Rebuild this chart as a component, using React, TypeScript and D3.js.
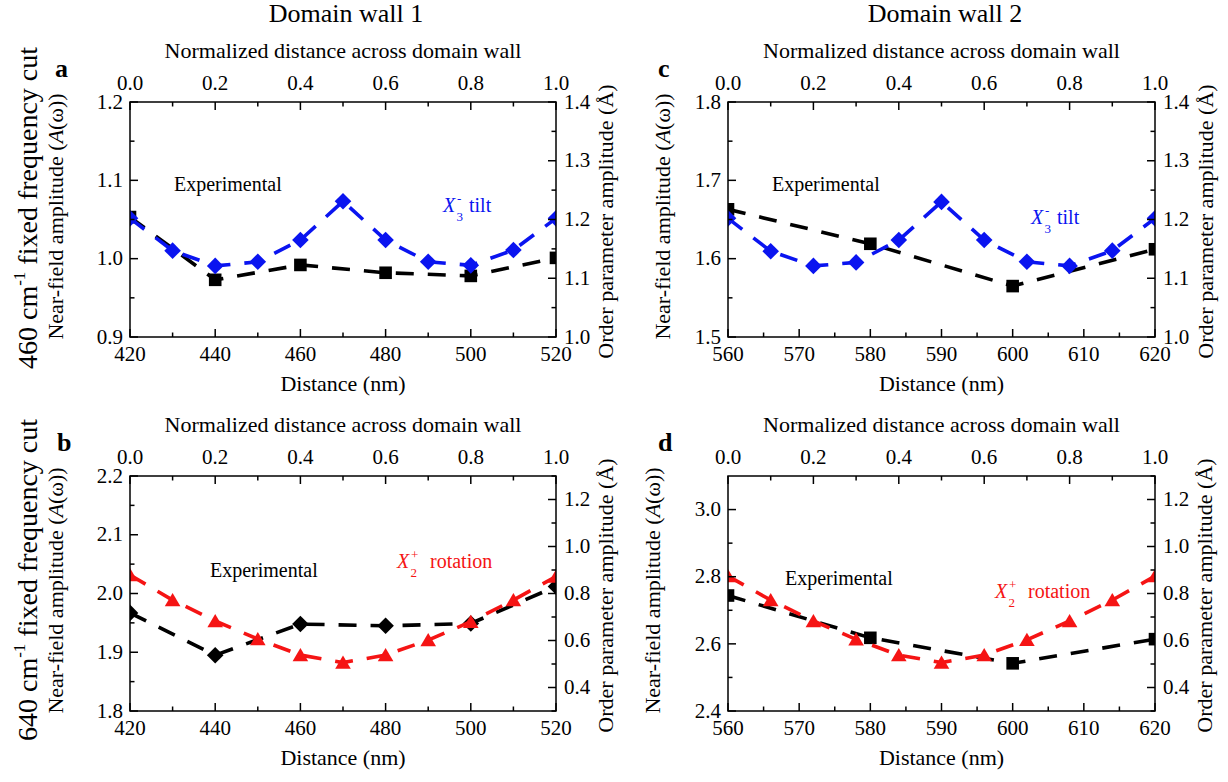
import React from "react";
import * as d3 from "d3";

const FONT = '"Liberation Serif","Times New Roman",Times,serif';
const BLUE = "#0a14f0";
const RED = "#f51414";
const BLACK = "#000000";

// ---------------- data ----------------
// normalized position across the wall (top axis) for the simulated order parameter
const normPos = [0, 0.1, 0.2, 0.3, 0.4, 0.5, 0.6, 0.7, 0.8, 0.9, 1.0];
// experimental sampling positions (nm)
const dw1Distance = [420, 440, 460, 480, 500, 520];
const dw2Distance = [560, 580, 600, 620];
// experimental near-field amplitude
const exp460DW1 = [1.053, 0.973, 0.992, 0.982, 0.978, 1.001];
const exp460DW2 = [1.663, 1.619, 1.565, 1.612];
const exp640DW1 = [1.967, 1.895, 1.948, 1.945, 1.949, 2.012];
const exp640DW2 = [2.744, 2.618, 2.542, 2.614];
// simulated order parameter amplitude (Å)
const tiltDW1 = [1.202, 1.147, 1.121, 1.128, 1.165, 1.231, 1.165, 1.128, 1.122, 1.148, 1.202];
const tiltDW2 = [1.202, 1.146, 1.121, 1.127, 1.165, 1.23, 1.165, 1.128, 1.121, 1.147, 1.202];
const rotDW1 = [0.879, 0.772, 0.683, 0.606, 0.538, 0.506, 0.538, 0.602, 0.68, 0.772, 0.872];
const rotDW2 = [0.874, 0.772, 0.683, 0.605, 0.538, 0.506, 0.538, 0.603, 0.683, 0.772, 0.874];

// tick labels
const topTicks = [0, 0.2, 0.4, 0.6, 0.8, 1.0];
const xTicksDW1 = [420, 440, 460, 480, 500, 520];
const xTicksDW2 = [560, 570, 580, 590, 600, 610, 620];
const yTicks460DW1 = [0.9, 1.0, 1.1, 1.2];
const yTicks460DW2 = [1.5, 1.6, 1.7, 1.8];
const yTicks640DW1 = [1.8, 1.9, 2.0, 2.1, 2.2];
const yTicks640DW2 = [2.4, 2.6, 2.8, 3.0];
const tiltTicks = [1.0, 1.1, 1.2, 1.3, 1.4];
const rotTicks = [0.4, 0.6, 0.8, 1.0, 1.2];

type Marker = "square" | "diamond" | "triangle";

interface PanelCfg {
  id: string;
  left: number; right: number; top: number; bottom: number;
  xDomain: [number, number]; xTicks: number[]; xMinor: number;
  yDomain: [number, number]; yTicks: number[]; yMinor: number;
  rDomain: [number, number]; rTicks: number[]; rMinor: number;
  expX: number[]; expY: number[]; expMarker: Marker;
  simV: number[]; simColor: string; simName: string; simSub: string; simSup: string;
  expLabel: [number, number]; simLabel: [number, number]; simTextDx: number;
  letterX: number; leftTitleX: number; rightTitleX: number;
}

const panels: PanelCfg[] = [
  {
    id: "a", left: 130, right: 556, top: 102, bottom: 337,
    xDomain: [420, 520], xTicks: xTicksDW1, xMinor: 10,
    yDomain: [0.9, 1.2], yTicks: yTicks460DW1, yMinor: 0.05,
    rDomain: [1.0, 1.4], rTicks: tiltTicks, rMinor: 0.05,
    expX: dw1Distance, expY: exp460DW1, expMarker: "square",
    simV: tiltDW1, simColor: BLUE, simName: "tilt", simSub: "3", simSup: "-",
    expLabel: [174, 191], simLabel: [443, 212], simTextDx: 26,
    letterX: 55, leftTitleX: 63, rightTitleX: 613,
  },
  {
    id: "c", left: 728, right: 1155, top: 102, bottom: 337,
    xDomain: [560, 620], xTicks: xTicksDW2, xMinor: 5,
    yDomain: [1.5, 1.8], yTicks: yTicks460DW2, yMinor: 0.05,
    rDomain: [1.0, 1.4], rTicks: tiltTicks, rMinor: 0.05,
    expX: dw2Distance, expY: exp460DW2, expMarker: "square",
    simV: tiltDW2, simColor: BLUE, simName: "tilt", simSub: "3", simSup: "-",
    expLabel: [772, 191], simLabel: [1031, 224], simTextDx: 26,
    letterX: 658, leftTitleX: 670, rightTitleX: 1213,
  },
  {
    id: "b", left: 130, right: 556, top: 476, bottom: 711,
    xDomain: [420, 520], xTicks: xTicksDW1, xMinor: 10,
    yDomain: [1.8, 2.2], yTicks: yTicks640DW1, yMinor: 0.05,
    rDomain: [0.3, 1.3], rTicks: rotTicks, rMinor: 0.1,
    expX: dw1Distance, expY: exp640DW1, expMarker: "diamond",
    simV: rotDW1, simColor: RED, simName: "rotation", simSub: "2", simSup: "+",
    expLabel: [210, 577], simLabel: [397, 568], simTextDx: 33,
    letterX: 57, leftTitleX: 63, rightTitleX: 613,
  },
  {
    id: "d", left: 728, right: 1155, top: 476, bottom: 711,
    xDomain: [560, 620], xTicks: xTicksDW2, xMinor: 5,
    yDomain: [2.4, 3.1], yTicks: yTicks640DW2, yMinor: 0.1,
    rDomain: [0.3, 1.3], rTicks: rotTicks, rMinor: 0.1,
    expX: dw2Distance, expY: exp640DW2, expMarker: "square",
    simV: rotDW2, simColor: RED, simName: "rotation", simSub: "2", simSup: "+",
    expLabel: [785, 585], simLabel: [995, 598], simTextDx: 33,
    letterX: 658, leftTitleX: 660, rightTitleX: 1212,
  },
];

function minors(domain: [number, number], step: number, majors: number[]) {
  const out: number[] = [];
  const n = Math.round((domain[1] - domain[0]) / step);
  for (let i = 0; i <= n; i++) {
    const v = domain[0] + i * step;
    if (!majors.some((m) => Math.abs(m - v) < step * 0.01)) out.push(v);
  }
  return out;
}

function markerPath(m: Marker, x: number, y: number) {
  if (m === "square") return `M${x - 6.3},${y - 6.3}h12.6v12.6h-12.6Z`;
  if (m === "diamond") return `M${x},${y - 8.3}L${x + 8.3},${y}L${x},${y + 8.3}L${x - 8.3},${y}Z`;
  return `M${x},${y - 7}L${x + 7.8},${y + 6.2}L${x - 7.8},${y + 6.2}Z`;
}

const MAJ = 8;
const MIN = 4.5;
const DASH = "18 14";
const LW = 3.6;

function Panel({ p }: { p: PanelCfg }) {
  const x = d3.scaleLinear().domain(p.xDomain).range([p.left, p.right]);
  const xt = d3.scaleLinear().domain([0, 1]).range([p.left, p.right]);
  const y = d3.scaleLinear().domain(p.yDomain).range([p.bottom, p.top]);
  const yr = d3.scaleLinear().domain(p.rDomain).range([p.bottom, p.top]);
  const fmt1 = d3.format(".1f");
  const clipId = `clip-${p.id}`;
  const cx = (p.left + p.right) / 2;
  const cy = (p.top + p.bottom) / 2;

  const expPts = p.expX.map((d, i) => [x(d), y(p.expY[i])] as [number, number]);
  const simPts = normPos.map((t, i) => [xt(t), yr(p.simV[i])] as [number, number]);
  const line = d3.line();

  const xMin = minors(p.xDomain, p.xMinor, p.xTicks);
  const tMin = minors([0, 1], 0.1, topTicks);
  const yMin = minors(p.yDomain, p.yMinor, p.yTicks).filter((v) => v < p.yDomain[1] - 1e-9);
  const rMin = minors(p.rDomain, p.rMinor, p.rTicks);

  const tick = { stroke: BLACK, strokeWidth: 1.5 };
  return (
    <g style={{ fontFamily: FONT }}>
      <defs>
        <clipPath id={clipId}>
          <rect x={p.left} y={p.top} width={p.right - p.left} height={p.bottom - p.top} />
        </clipPath>
      </defs>
      {/* data */}
      <g clipPath={`url(#${clipId})`}>
        <path d={line(expPts) || ""} fill="none" stroke={BLACK} strokeWidth={LW} strokeDasharray={DASH} />
        {expPts.map(([px, py], i) => (
          <path key={"e" + i} d={markerPath(p.expMarker, px, py)} fill={BLACK} />
        ))}
        <path d={line(simPts) || ""} fill="none" stroke={p.simColor} strokeWidth={LW} strokeDasharray={DASH} />
        {simPts.map(([px, py], i) => (
          <path key={"s" + i} d={markerPath(p.simColor === BLUE ? "diamond" : "triangle", px, py)} fill={p.simColor} />
        ))}
      </g>
      {/* frame */}
      <rect x={p.left} y={p.top} width={p.right - p.left} height={p.bottom - p.top} fill="none" stroke={BLACK} strokeWidth={1.5} />
      {/* bottom ticks */}
      {p.xTicks.map((v) => (
        <g key={"xb" + v}>
          <line x1={x(v)} x2={x(v)} y1={p.bottom} y2={p.bottom - MAJ} {...tick} />
          <text x={x(v)} y={p.bottom + 24} fontSize={21} textAnchor="middle">{v}</text>
        </g>
      ))}
      {xMin.map((v) => (
        <line key={"xbm" + v} x1={x(v)} x2={x(v)} y1={p.bottom} y2={p.bottom - MIN} {...tick} />
      ))}
      {/* top ticks */}
      {topTicks.map((v) => (
        <g key={"xt" + v}>
          <line x1={xt(v)} x2={xt(v)} y1={p.top} y2={p.top + MAJ} {...tick} />
          <text x={xt(v)} y={p.top - 12} fontSize={21} textAnchor="middle">{fmt1(v)}</text>
        </g>
      ))}
      {tMin.map((v) => (
        <line key={"xtm" + v} x1={xt(v)} x2={xt(v)} y1={p.top} y2={p.top + MIN} {...tick} />
      ))}
      {/* left ticks */}
      {p.yTicks.map((v) => (
        <g key={"yl" + v}>
          <line x1={p.left} x2={p.left + MAJ} y1={y(v)} y2={y(v)} {...tick} />
          <text x={p.left - 7} y={y(v)} dy="0.32em" fontSize={21} textAnchor="end">{fmt1(v)}</text>
        </g>
      ))}
      {yMin.map((v) => (
        <line key={"ylm" + v} x1={p.left} x2={p.left + MIN} y1={y(v)} y2={y(v)} {...tick} />
      ))}
      {/* right ticks */}
      {p.rTicks.map((v) => (
        <g key={"yr" + v}>
          <line x1={p.right} x2={p.right - MAJ} y1={yr(v)} y2={yr(v)} {...tick} />
          <text x={p.right + 8} y={yr(v)} dy="0.32em" fontSize={21} textAnchor="start">{fmt1(v)}</text>
        </g>
      ))}
      {rMin.map((v) => (
        <line key={"yrm" + v} x1={p.right} x2={p.right - MIN} y1={yr(v)} y2={yr(v)} {...tick} />
      ))}
      {/* axis titles */}
      <text x={cx} y={p.bottom + 54} fontSize={22} textAnchor="middle">Distance (nm)</text>
      <text x={cx} y={p.top - 44} fontSize={22} textAnchor="middle">Normalized distance across domain wall</text>
      <text transform={`translate(${p.leftTitleX},${cy - 3}) rotate(-90)`} fontSize={22} textAnchor="middle">
        Near-field amplitude (<tspan fontStyle="italic">A</tspan>(ω))
      </text>
      <text transform={`translate(${p.rightTitleX},${cy + 2}) rotate(-90)`} fontSize={22} textAnchor="middle">
        Order parameter amplitude (Å)
      </text>
      {/* panel letter */}
      <text x={p.letterX} y={p.top - 25} fontSize={26} fontWeight="bold">{p.id}</text>
      {/* series labels */}
      <text x={p.expLabel[0]} y={p.expLabel[1]} fontSize={20}>Experimental</text>
      <g fill={p.simColor}>
        <text x={p.simLabel[0]} y={p.simLabel[1]} fontSize={20} fontStyle="italic">X</text>
        <text x={p.simLabel[0] + 13.5} y={p.simLabel[1] + 9} fontSize={13}>{p.simSub}</text>
        <text x={p.simLabel[0] + 14} y={p.simLabel[1] - 9} fontSize={13}>{p.simSup}</text>
        <text x={p.simLabel[0] + p.simTextDx} y={p.simLabel[1]} fontSize={20}>{p.simName}</text>
      </g>
    </g>
  );
}

export default function App() {
  return (
    <div>
      <style>{"body{margin:0;background:#fff}"}</style>
      <svg width={1228} height={782} viewBox="0 0 1228 782" style={{ display: "block", background: "#fff", fontFamily: FONT }}>
        <rect width={1228} height={782} fill="#fff" />
        <text x={346} y={22} fontSize={26} textAnchor="middle">Domain wall 1</text>
        <text x={945} y={22} fontSize={26} textAnchor="middle">Domain wall 2</text>
        <text transform="translate(37,208) rotate(-90)" fontSize={28} textAnchor="middle">
          460 cm<tspan fontSize={17} dy={-12}>-1</tspan><tspan dy={12}> fixed frequency cut</tspan>
        </text>
        <text transform="translate(37,580) rotate(-90)" fontSize={28} textAnchor="middle">
          640 cm<tspan fontSize={17} dy={-12}>-1</tspan><tspan dy={12}> fixed frequency cut</tspan>
        </text>
        {panels.map((p) => (
          <Panel key={p.id} p={p} />
        ))}
      </svg>
    </div>
  );
}
